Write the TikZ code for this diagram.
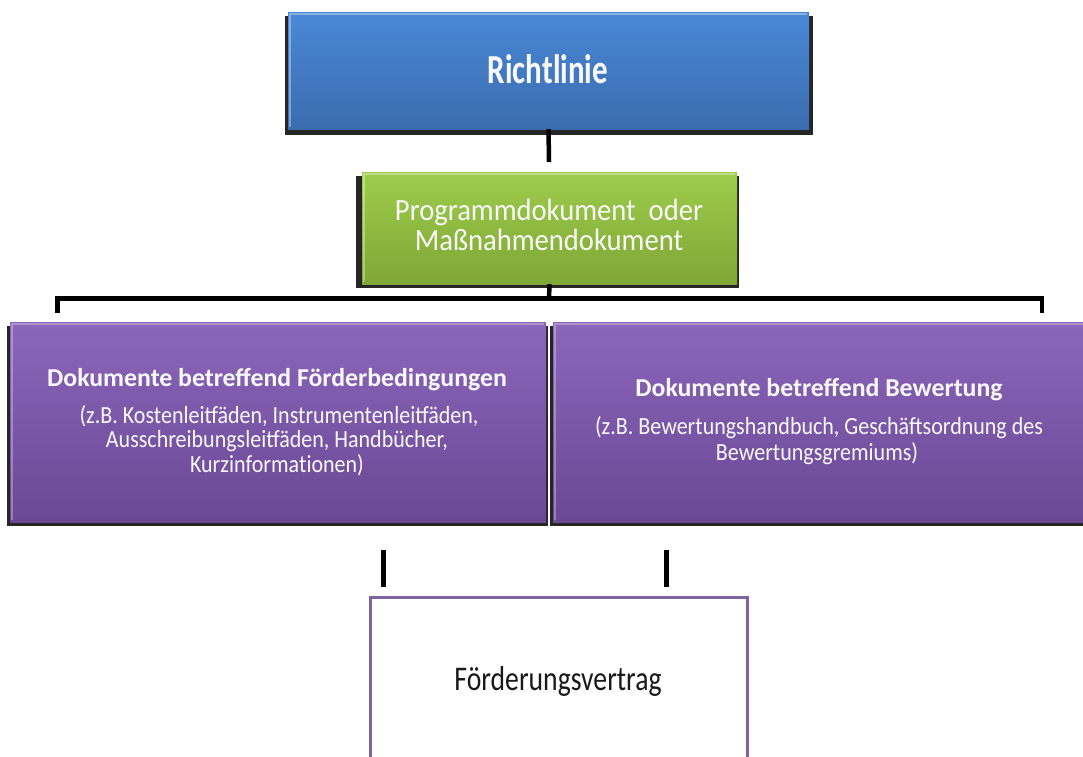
\documentclass[tikz,border=0pt]{standalone}
\usepackage{graphicx}
\usepackage{fontspec}
\setmainfont{Carlito}
\begin{document}
\begin{tikzpicture}[x=1pt,y=-1pt,
  shadowbox/.style={fill=black!85, draw=none},
  bluebox/.style={draw=none, top color=blue1, bottom color=blue2, inner sep=0pt},
  greenbox/.style={draw=none, top color=green1, bottom color=green2, inner sep=0pt},
  purplebox/.style={draw=none, top color=purple1, bottom color=purple2, inner sep=0pt},
  boxtext/.style={text=white!95!gray, anchor=base, inner sep=0pt},
  conn/.style={line width=4.5pt, black},
  tick/.style={line width=5pt, black}]
\definecolor{blue1}{HTML}{4A88D6}
\definecolor{blue2}{HTML}{3A6CAE}
\definecolor{green1}{HTML}{9ECD4C}
\definecolor{green2}{HTML}{7FA636}
\definecolor{purple1}{HTML}{8C66BB}
\definecolor{purple2}{HTML}{6A4894}
\definecolor{fvborder}{HTML}{8064A2}
\useasboundingbox (0,0) rectangle (1083,756);
\fill[white] (0,0) rectangle (1083,756);
% shadows
\fill[shadowbox] (285,16) rectangle (813,135);
\fill[shadowbox] (356,176) rectangle (739,288);
\fill[shadowbox] (7,326) rectangle (548,526);
\fill[shadowbox] (550,326) rectangle (1090,526);
% boxes
\node[bluebox, minimum width=521pt, minimum height=117pt] (rl) at (548.5,70.5) {};
\node[greenbox, minimum width=375pt, minimum height=112pt] (pg) at (549.5,228) {};
\node[purplebox, minimum width=536pt, minimum height=200pt] (lb) at (278,422) {};
\node[purplebox, minimum width=536pt, minimum height=200pt] (rb) at (821,422) {};
% bevel highlights
\draw[white, opacity=0.35, line width=2pt] ([shift={(2,-2)}]rl.south west) |- ([shift={(-2,2)}]rl.north east);
\draw[white, opacity=0.35, line width=2pt] ([shift={(2,-2)}]pg.south west) |- ([shift={(-2,2)}]pg.north east);
\draw[white, opacity=0.3, line width=2pt] ([shift={(2,-2)}]lb.south west) |- ([shift={(-2,2)}]lb.north east);
\draw[white, opacity=0.3, line width=2pt] ([shift={(2,-2)}]rb.south west) |- ([shift={(-2,2)}]rb.north east);
% texts
\node[boxtext, font=\fontsize{31}{34}\selectfont\bfseries] (rlt) at (548,83.5) {\scalebox{1}[1.33]{Richtlinie}};
\node[boxtext, font=\fontsize{28.6}{30}\selectfont] (pgt1) at (549,220.5) {\scalebox{1}[1.08]{Programmdokument\ \ oder}};
\node[boxtext, font=\fontsize{28.6}{30}\selectfont] (pgt2) at (549,250) {\scalebox{1}[1.08]{Maßnahmendokument}};
\node[boxtext, font=\fontsize{25.8}{28}\selectfont\bfseries] (lt) at (277,386) {Dokumente betreffend Förderbedingungen};
\node[boxtext, font=\fontsize{22}{25}\selectfont] (ls1) at (279,423) {\scalebox{1}[1.12]{(z.B. Kostenleitfäden, Instrumentenleitfäden,}};
\node[boxtext, font=\fontsize{22}{25}\selectfont] (ls2) at (277,447.5) {\scalebox{1}[1.12]{Ausschreibungsleitfäden, Handbücher,}};
\node[boxtext, font=\fontsize{22}{25}\selectfont] (ls3) at (277,472) {\scalebox{1}[1.12]{Kurzinforma\hbox{t}ionen)}};
\node[boxtext, font=\fontsize{25.8}{28}\selectfont\bfseries] (rt) at (819,396) {Dokumente betreffend Bewertung};
\node[boxtext, font=\fontsize{22}{25}\selectfont] (rs1) at (819,434) {\scalebox{1}[1.12]{(z.B. Bewertungshandbuch, Geschäftsordnung des}};
\node[boxtext, font=\fontsize{22}{25}\selectfont] (rs2) at (817,460) {\scalebox{1}[1.12]{Bewertungsgremiums)}};
% connectors
\coordinate (pgtop) at (549,162);
\coordinate (barM) at (549,298.5);
\coordinate (barL) at (57.5,298.5);
\coordinate (barR) at (1042,298.5);
\coordinate (dropL) at (57.5,311);
\coordinate (dropR) at (1042,311);
\draw[conn] (rl.south) -- (pgtop);
\draw[conn] (pg.south) -- (barM);
\draw[conn, line cap=rect] (dropL) -- (barL) -- (barR) -- (dropR);
% ticks
\coordinate (t1a) at (383.5,550);
\coordinate (t1b) at (383.5,587);
\coordinate (t2a) at (666.5,550);
\coordinate (t2b) at (666.5,587);
\draw[tick] (t1a) -- (t1b);
\draw[tick] (t2a) -- (t2b);
% contract box
\node[draw=fvborder, line width=3pt, fill=white, minimum width=377pt, minimum height=170pt, inner sep=0pt] (fv) at (558.5,682) {};
\node[font=\fontsize{27.7}{30}\selectfont, text=black!90, anchor=base, inner sep=0pt] (fvt) at (558,690) {\scalebox{1}[1.25]{Förderungsvertrag}};
\end{tikzpicture}
\end{document}
